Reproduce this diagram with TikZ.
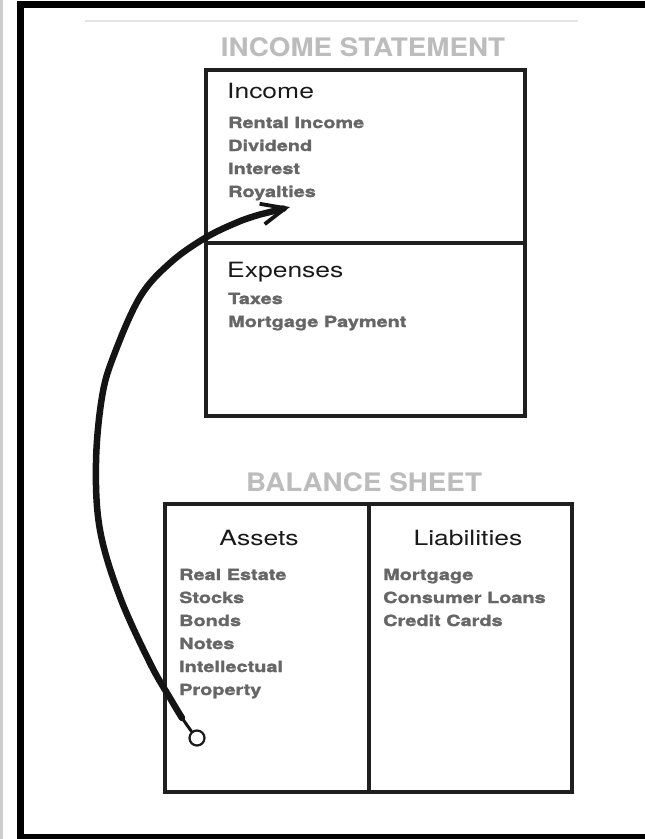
\documentclass[tikz,border=0pt]{standalone}
\usepackage{fontspec}
\setmainfont{TeX Gyre Heros}
\newfontfamily\hdfont{TeX Gyre Heros}[FakeStretch=1.26]
\newfontfamily\itfont{TeX Gyre Heros}[FakeStretch=1.3,FakeBold=1.6]
\newfontfamily\ttlfont{TeX Gyre Heros}[FakeStretch=1.09]
\usetikzlibrary{arrows.meta}
\definecolor{itemgray}{HTML}{666666}
\definecolor{titlegray}{HTML}{BCBCBC}
\begin{document}
\begin{tikzpicture}[x=1pt,y=-1pt,
  box/.style={draw=black!88, line width=3.8, inner sep=0, anchor=north west},
  ttl/.style={inner sep=0, anchor=base, text=titlegray, font=\ttlfont\bfseries\fontsize{25.5}{25.5}\selectfont},
  hdr/.style={inner sep=0, text=black!90, font=\hdfont\fontsize{21}{21}\selectfont},
  itm/.style={inner sep=0, anchor=base west, text=itemgray, font=\itfont\bfseries\fontsize{15.3}{15.3}\selectfont}]
\useasboundingbox (0,0) rectangle (645,839);
\fill[white] (0,0) rectangle (645,839);
% page edge and frame
\fill[gray!40] (0,0) rectangle (3,839);
\draw[line width=7] (20,4) rectangle (665,837);
\draw[gray!22, line width=1.5] (85,21) -- (578,21);
% income statement
\node[ttl] (ist) at (363,56) {INCOME STATEMENT};
\node[box, minimum width=319, minimum height=173] (inc) at (204,68) {};
\node[box, minimum width=319, minimum height=173] (exp) at (204,241) {};
\node[hdr, anchor=base west] (inch) at (227,98) {Income};
\foreach \t [count=\i] in {Rental Income, Dividend, Interest, Royalties}
  \node[itm] (inc\i) at (228,{128+23*(\i-1)}) {\t};
\node[hdr, anchor=base west] (exph) at (227,277) {Expenses};
\foreach \t [count=\i] in {Taxes, Mortgage Payment}
  \node[itm] (exp\i) at (228,{304+23*(\i-1)}) {\t};
% balance sheet
\node[ttl] (bst) at (364,491) {BALANCE SHEET};
\node[box, minimum width=204, minimum height=288] (ast) at (163,502) {};
\node[box, minimum width=203, minimum height=288] (lia) at (367,502) {};
\node[hdr, anchor=base] (asth) at (259,545) {Assets};
\node[hdr, anchor=base] (liah) at (468,545) {Liabilities};
\foreach \t [count=\i] in {Real Estate, Stocks, Bonds, Notes, Intellectual, Property}
  \node[itm] (ast\i) at (179,{580+23*(\i-1)}) {\t};
\foreach \t [count=\i] in {Mortgage, Consumer Loans, Credit Cards}
  \node[itm] (lia\i) at (383,{580+23*(\i-1)}) {\t};
% arrow
\node[circle, draw=black!90, line width=2.2, minimum size=15, inner sep=0, fill=white] (start) at (197,738) {};
\coordinate (tip) at (290,207);
\draw[black!92, line width=3, line cap=round] (start.130) -- (182,718);
\draw[black!92, line width=6.5, line cap=round,
  -{Straight Barb[length=24pt,width=21pt,line width=3.8pt]}]
  plot[smooth, tension=0.6] coordinates {(182,718) (170,698) (150,663) (120,597) (100,530) (96,463) (102,397) (114,355) (140,297) (170,263) (205,238) (238,222) (260,214.5)} -- (tip);
\end{tikzpicture}
\end{document}
